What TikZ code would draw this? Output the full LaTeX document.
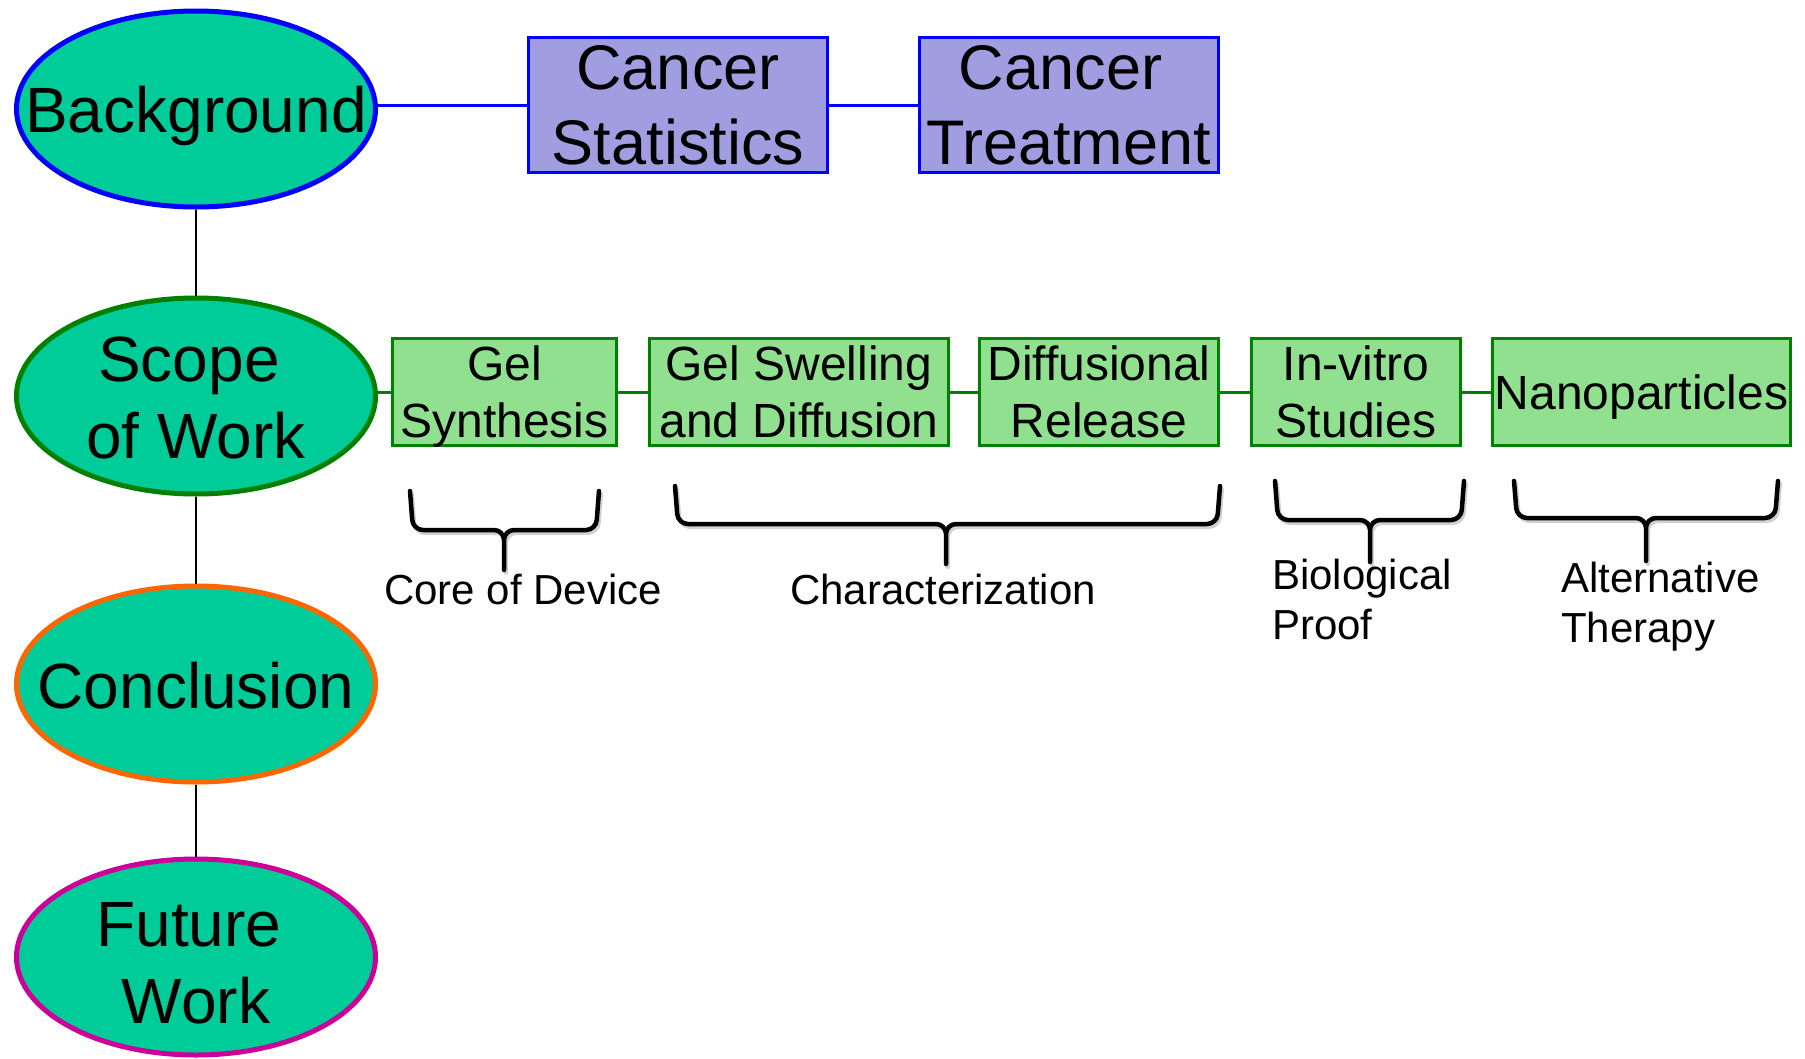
\documentclass[tikz,border=0pt]{standalone}
\usepackage{fontspec}
\setmainfont{Liberation Sans}
\usetikzlibrary{shapes.geometric}
\definecolor{ellfill}{RGB}{0,204,153}
\definecolor{bluebox}{RGB}{160,158,224}
\definecolor{greenbox}{RGB}{144,224,144}
\definecolor{darkgreen}{RGB}{0,128,0}
\definecolor{orng}{RGB}{255,102,0}
\definecolor{magen}{RGB}{204,0,153}
\definecolor{pureblue}{RGB}{0,0,255}
\newcommand{\nodepth}[1]{\raisebox{0pt}[\height][0pt]{#1}}
\newcommand{\drawbrace}[6]{%
  \draw[braceshadow] (#1+2,#4+3) -- (#1+5,#5+3) -- (#3+2,#5+3) -- (#3+2,#6+3)
        (#2+2,#4+3) -- (#2-1,#5+3) -- (#3+2,#5+3) -- (#3+2,#6+3);
  \draw[bracepath] (#1,#4) -- (#1+3,#5) -- (#3,#5) -- (#3,#6)
        (#2,#4) -- (#2-3,#5) -- (#3,#5) -- (#3,#6);
}
\begin{document}
\begin{tikzpicture}[x=1pt,y=-1pt,
  ell/.style={ellipse, fill=ellfill, line width=5pt, minimum width=359pt, minimum height=196pt, inner sep=0pt},
  bigtext/.style={font=\fontsize{64}{77}\selectfont, align=center, inner sep=0pt},
  bluebx/.style={rectangle, draw=pureblue, fill=bluebox, line width=3pt, minimum height=135pt, minimum width=299pt, inner sep=0pt, align=center, font=\fontsize{63}{75}\selectfont},
  greenbx/.style={rectangle, draw=darkgreen, fill=greenbox, line width=3pt, minimum height=107pt, inner sep=0pt, align=center, font=\fontsize{48}{57}\selectfont},
  vline/.style={black, line width=2pt},
  bline/.style={pureblue, line width=3pt},
  gline/.style={darkgreen, line width=3pt},
  bracepath/.style={black, line width=4.5pt, rounded corners=10pt, line cap=round},
  braceshadow/.style={black!18, line width=4pt, rounded corners=10pt, line cap=round},
  lbl/.style={font=\fontsize{42}{50}\selectfont, inner sep=0pt}
]
\useasboundingbox (0,0) rectangle (1805,1058);

% main column
\node[ell, draw=pureblue, label={[bigtext]center:\nodepth{Background}}] (bg) at (196,109) {};
\node[ell, draw=darkgreen, label={[bigtext, yshift=-2pt]center:Scope\kern14pt\\of Work}] (sw) at (196,396) {};
\node[ell, draw=orng, label={[bigtext, yshift=-2pt]center:Conclusion}] (cc) at (196,684) {};
\node[ell, draw=magen, label={[bigtext, yshift=-6pt]center:Future\kern14pt\\Work}] (fw) at (196,957) {};

% background row
\node[bluebx] (cs) at (678,105) {Cancer\\Statistics};
\node[bluebx] (ct) at (1068.5,105) {Cancer\kern16pt\\Treatment};

% scope row
\node[greenbx, minimum width=224pt] (gs) at (504.5,392) {Gel\\\nodepth{Synthesis}};
\node[greenbx, minimum width=299pt] (gw) at (799,392) {Gel Swelling\\\nodepth{and Diffusion}};
\node[greenbx, minimum width=239pt] (dr) at (1099,392) {Diffusional\\\nodepth{Release}};
\node[greenbx, minimum width=209pt] (iv) at (1356,392) {In-vitro\\\nodepth{Studies}};
\node[greenbx, minimum width=298pt] (np) at (1641.5,392) {\nodepth{Nanoparticles}};

% connectors
\draw[vline] (bg) -- (sw);
\draw[vline] (sw) -- (cc);
\draw[vline] (cc) -- (fw);
\draw[bline] (cs.west -| bg.east) -- (cs.west);
\draw[bline] (cs.east) -- (ct.west);
\draw[gline] (gs.west -| sw.east) -- (gs.west);
\draw[gline] (gs.east) -- (gw.west);
\draw[gline] (gw.east) -- (dr.west);
\draw[gline] (dr.east) -- (iv.west);
\draw[gline] (iv.east) -- (np.west);

% braces
\drawbrace{410}{599}{504}{491}{530}{570}
\drawbrace{675}{1220}{946}{486}{524}{564}
\drawbrace{1275}{1464}{1370}{481}{520}{562}
\drawbrace{1514}{1778}{1646}{481}{518}{561}

% brace labels
\node[lbl, anchor=base] (l1) at (523,604) {Core of Device};
\node[lbl, anchor=base] (l2) at (943,604) {Characterization};
\node[lbl, anchor=north west, align=left] (l3) at (1272,559) {Biological\\Proof};
\node[lbl, anchor=north west, align=left] (l4) at (1561,562) {Alternative\\Therapy};
\end{tikzpicture}
\end{document}
